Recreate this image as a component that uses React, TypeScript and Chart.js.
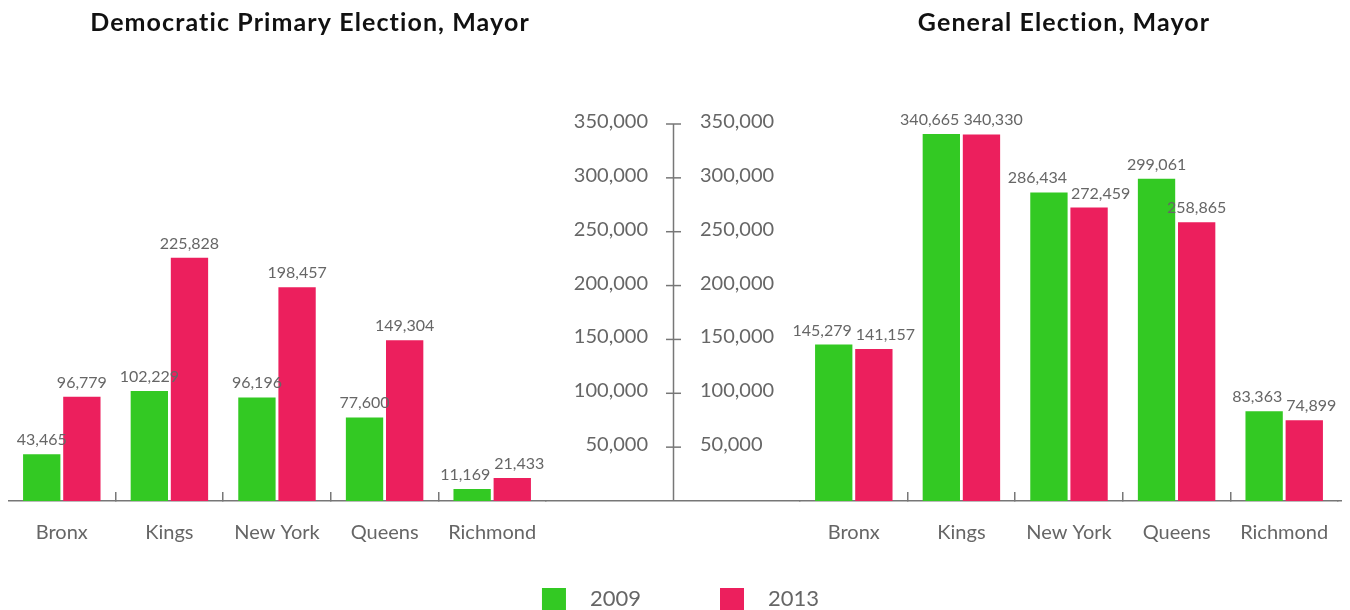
import React, { useEffect, useRef } from 'react';
import { Chart, registerables } from 'chart.js';

Chart.register(...registerables);

// ---- data ----
const categories = ['Bronx', 'Kings', 'New York', 'Queens', 'Richmond'];
const seriesNames = ['2009', '2013'];
const primary2009 = [43465, 102229, 96196, 77600, 11169];
const primary2013 = [96779, 225828, 198457, 149304, 21433];
const general2009 = [145279, 340665, 286434, 299061, 83363];
const general2013 = [141157, 340330, 272459, 258865, 74899];
const panelTitles = ['Democratic Primary Election, Mayor', 'General Election, Mayor'];
const yMax = 350000;
const yStep = 50000;

// ---- style ----
const GREEN = '#33c923';
const RED = '#ec1f5d';
const AXIS = '#777777';
const TEXT = '#666666';
const CLEAR = 'rgba(0,0,0,0)';
const FONT = 'Lato';
const W = 1342;
const H = 602;

const fmt = (v: number) => v.toLocaleString('en-US');

function titlePlugin(text: string, axisId: string, shift: number) {
  return {
    id: 'panelTitle',
    afterDraw(chart: any) {
      const ctx = chart.ctx;
      const s = chart.scales[axisId];
      ctx.save();
      ctx.font = `bold 25px ${FONT}`;
      try { ctx.letterSpacing = '1.1px'; } catch (e) { /* ignore */ }
      ctx.fillStyle = '#111111';
      ctx.textAlign = 'center';
      ctx.textBaseline = 'alphabetic';
      ctx.fillText(text, (s.left + s.right) / 2 + shift, 23);
      ctx.restore();
    },
  };
}

const centerAxisPlugin = {
  id: 'centerAxis',
  afterDraw(chart: any) {
    const ctx = chart.ctx;
    const y = chart.scales.y;
    const x = Math.round(chart.scales.xGap.getPixelForValue(0.5)) + 0.5;
    ctx.save();
    ctx.strokeStyle = AXIS;
    ctx.lineWidth = 1.5;
    ctx.beginPath();
    ctx.moveTo(x, y.getPixelForValue(y.max));
    ctx.lineTo(x, y.getPixelForValue(0));
    ctx.stroke();
    ctx.font = `20px ${FONT}`;
    ctx.fillStyle = TEXT;
    ctx.textBaseline = 'alphabetic';
    for (const t of y.ticks) {
      if (t.value <= 0) continue;
      const py = y.getPixelForValue(t.value);
      ctx.beginPath();
      ctx.moveTo(x - 7.5, py);
      ctx.lineTo(x + 7.5, py);
      ctx.stroke();
      const label = fmt(t.value);
      ctx.textAlign = 'right';
      ctx.fillText(label, x - 25.5, py + 4);
      ctx.textAlign = 'left';
      ctx.fillText(label, x + 26.5, py + 4);
    }
    ctx.restore();
  },
};

const dataLabelPlugin = {
  id: 'barValues',
  afterDatasetsDraw(chart: any) {
    const ctx = chart.ctx;
    ctx.save();
    ctx.font = `16px ${FONT}`;
    ctx.fillStyle = TEXT;
    ctx.textAlign = 'center';
    ctx.textBaseline = 'alphabetic';
    const n = chart.data.datasets[0].data.length;
    for (let i = 0; i < n; i++) {
      const items = [0, 1].map((di) => {
        const el = chart.getDatasetMeta(di).data[i];
        const text = fmt(chart.data.datasets[di].data[i] as number);
        return { x: el.x, y: el.y - 9, w: ctx.measureText(text).width, text };
      });
      const [a, b] = items;
      if (Math.abs(a.y - b.y) < 20) {
        const need = (a.w + b.w) / 2 + 4;
        const d = b.x - a.x;
        if (d < need) {
          const s = (need - d) / 2;
          a.x -= s;
          b.x += s;
        }
      }
      for (const it of items) ctx.fillText(it.text, it.x, it.y);
    }
    ctx.restore();
  },
};

const legendPlugin = {
  id: 'bottomLegend',
  afterDraw(chart: any) {
    const ctx = chart.ctx;
    const ds = chart.data.datasets;
    const box = 24;
    const gapText = 24;
    const gapItem = 79;
    ctx.save();
    ctx.font = `22px ${FONT}`;
    const widths = ds.map((d: any) => ctx.measureText(d.label).width);
    const total = widths.reduce((s: number, w: number) => s + box + gapText + w, 0) + gapItem * (ds.length - 1);
    let x = chart.width / 2 + 1.5 - total / 2;
    const cy = chart.height - 11;
    ds.forEach((d: any, i: number) => {
      ctx.fillStyle = d.backgroundColor;
      ctx.fillRect(x, cy - 11, box, box);
      ctx.fillStyle = TEXT;
      ctx.textAlign = 'left';
      ctx.textBaseline = 'middle';
      ctx.fillText(d.label, x + box + gapText, cy);
      x += box + gapText + widths[i] + gapItem;
    });
    ctx.restore();
  },
};

const zeroPadding = (s: any) => {
  s.paddingLeft = 0;
  s.paddingRight = 0;
};

const tickFont = { family: FONT, size: 20 };

function categoryAxis(weight: number) {
  return {
    type: 'category',
    position: 'bottom',
    stack: 'base',
    stackWeight: weight,
    labels: categories,
    offset: true,
    afterFit: zeroPadding,
    grid: {
      offset: true,
      drawOnChartArea: false,
      drawTicks: true,
      tickLength: -9,
      lineWidth: 1.5,
      color: (c: any) => (c.type !== 'tick' || c.index === 0 ? CLEAR : AXIS),
    },
    border: { display: true, color: AXIS, width: 1.5 },
    ticks: {
      color: TEXT,
      font: tickFont,
      padding: 29,
      maxRotation: 0,
      autoSkip: false,
    },
  };
}

// blank axis that only continues the baseline (same height as the category axes)
function spacerAxis(weight: number) {
  return {
    type: 'linear',
    position: 'bottom',
    stack: 'base',
    stackWeight: weight,
    min: 0,
    max: 1,
    offset: false,
    afterFit: zeroPadding,
    grid: {
      offset: false,
      drawOnChartArea: false,
      drawTicks: true,
      tickLength: -9,
      lineWidth: 1.5,
      color: CLEAR,
      tickColor: CLEAR,
    },
    border: { display: true, color: AXIS, width: 1.5 },
    ticks: { display: true, color: CLEAR, font: tickFont, padding: 29, maxRotation: 0, maxTicksLimit: 2 },
  };
}

const yAxis = {
  type: 'linear',
  position: 'left',
  display: false,
  min: 0,
  max: yMax,
  ticks: { stepSize: yStep },
};

function barDatasets(a: number[], b: number[], xAxisID: string) {
  const common = { categoryPercentage: 0.746, barPercentage: 0.93, borderWidth: 0, xAxisID, yAxisID: 'y' };
  return [
    { label: seriesNames[0], data: a, backgroundColor: GREEN, ...common },
    { label: seriesNames[1], data: b, backgroundColor: RED, ...common },
  ];
}

function baseOptions(padLeft: number, padRight: number, scales: any) {
  return {
    responsive: false,
    animation: false,
    devicePixelRatio: 1,
    layout: { padding: { top: 116, left: padLeft, right: padRight, bottom: 36 } },
    plugins: {
      legend: { display: false },
      title: { display: false },
      tooltip: { enabled: false },
    },
    scales,
  };
}

export default function App() {
  const leftRef = useRef<HTMLCanvasElement | null>(null);
  const rightRef = useRef<HTMLCanvasElement | null>(null);

  useEffect(() => {
    document.body.style.overflow = 'hidden';
    if (!leftRef.current || !rightRef.current) return;
    const left = new Chart(leftRef.current, {
      type: 'bar',
      data: { datasets: barDatasets(primary2009, primary2013, 'xL') },
      options: baseOptions(0, W - 538, { xL: categoryAxis(1), y: yAxis }),
      plugins: [titlePlugin(panelTitles[0], 'xL', 33), dataLabelPlugin],
    } as any);
    const right = new Chart(rightRef.current, {
      type: 'bar',
      data: { datasets: barDatasets(general2009, general2013, 'xR') },
      options: baseOptions(538, 4, {
        xGap: spacerAxis(254),
        xR: categoryAxis(538),
        xEnd: spacerAxis(8),
        y: yAxis,
      }),
      plugins: [titlePlugin(panelTitles[1], 'xR', -5), centerAxisPlugin, dataLabelPlugin, legendPlugin],
    } as any);
    return () => {
      left.destroy();
      right.destroy();
    };
  }, []);

  const canvasStyle: React.CSSProperties = { position: 'absolute', left: 0, top: 0, width: W, height: H, display: 'block' };
  return (
    <div style={{ position: 'relative', width: W, height: H }}>
      <canvas ref={leftRef} width={W} height={H} style={canvasStyle} />
      <canvas ref={rightRef} width={W} height={H} style={canvasStyle} />
    </div>
  );
}
